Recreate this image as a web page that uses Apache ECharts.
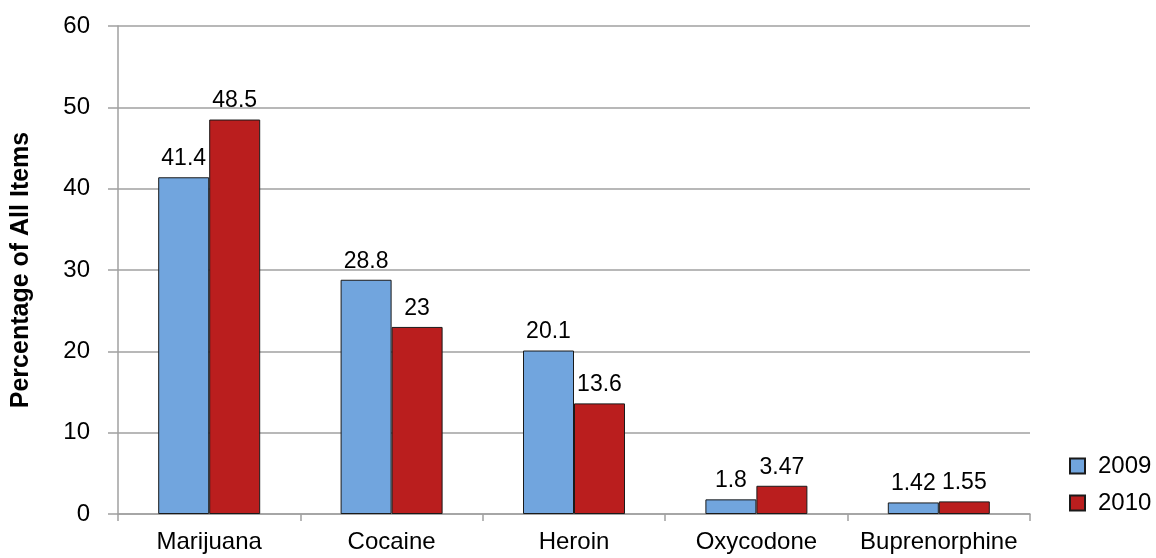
<!DOCTYPE html>
<html>
<head>
<meta charset="utf-8">
<script src="https://cdn.jsdelivr.net/npm/echarts@6/dist/echarts.min.js"></script>
<style>
html,body{margin:0;padding:0;background:#fff;}
#chart{width:1156px;height:558px;}
</style>
</head>
<body>
<div id="chart"></div>
<script>
// Drug categories and share of all items per year
const categories = ['Marijuana', 'Cocaine', 'Heroin', 'Oxycodone', 'Buprenorphine'];
const values2009 = [41.4, 28.8, 20.1, 1.8, 1.42];
const values2010 = [48.5, 23, 13.6, 3.47, 1.55];
const yTicks = [0, 10, 20, 30, 40, 50, 60];

const font = 'Liberation Sans, Arial, sans-serif';
const chart = echarts.init(document.getElementById('chart'));

const labelStyle = {
  show: true,
  position: 'top',
  distance: 7,
  color: '#000',
  fontFamily: font,
  fontSize: 23
};

chart.setOption({
  animation: false,
  backgroundColor: '#fff',
  textStyle: { fontFamily: font },
  grid: { left: 118, right: 126, top: 26, bottom: 44, containLabel: false },
  legend: {
    orient: 'vertical',
    left: 1064,
    top: 449,
    icon: 'rect',
    itemWidth: 15,
    itemHeight: 15,
    itemGap: 13,
    textStyle: { fontFamily: font, fontSize: 24, color: '#000', padding: [0, 0, 0, 8] },
    data: ['2009', '2010']
  },
  xAxis: {
    type: 'category',
    data: categories,
    axisLine: { lineStyle: { color: '#a0a0a0', width: 1.5 } },
    axisTick: { show: true, interval: 0, length: 7, lineStyle: { color: '#a0a0a0', width: 1.5 } },
    axisLabel: { interval: 0, hideOverlap: false, color: '#000', fontSize: 24, fontFamily: font, margin: 16 }
  },
  yAxis: {
    type: 'value',
    min: yTicks[0],
    max: yTicks[yTicks.length - 1],
    interval: 10,
    name: 'Percentage of All Items',
    nameLocation: 'middle',
    nameGap: 84,
    nameTextStyle: { fontSize: 25, fontWeight: 'bold', color: '#000', fontFamily: font },
    axisLine: { show: true, lineStyle: { color: '#a0a0a0', width: 1.5 } },
    axisTick: { show: true, length: 10, lineStyle: { color: '#a0a0a0', width: 1.5 } },
    axisLabel: { color: '#000', fontSize: 24, fontFamily: font, margin: 28 },
    splitLine: { lineStyle: { color: '#a0a0a0', width: 1.5 } }
  },
  series: [
    {
      name: '2009',
      type: 'bar',
      data: values2009,
      barWidth: 51,
      barGap: '0%',
      itemStyle: { color: '#71A5DE', borderColor: '#1a1a1a', borderWidth: 1 },
      label: labelStyle
    },
    {
      name: '2010',
      type: 'bar',
      data: values2010,
      barWidth: 51,
      itemStyle: { color: '#BA1E1E', borderColor: '#1a1a1a', borderWidth: 1 },
      label: labelStyle
    }
  ]
});
</script>
</body>
</html>
